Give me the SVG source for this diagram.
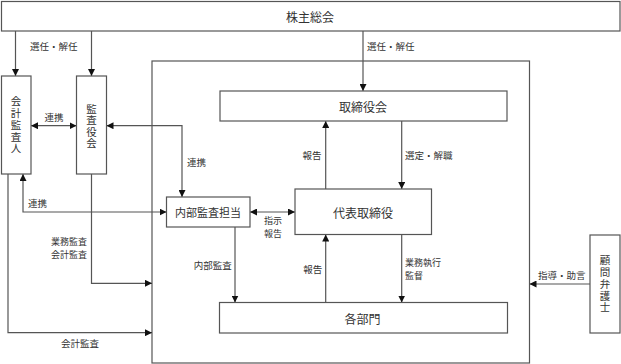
<svg xmlns="http://www.w3.org/2000/svg" width="621" height="364" viewBox="0 0 621 364">
<style>
.box{fill:#fff;stroke:#555;stroke-width:1.2}
.frame{fill:none;stroke:#555;stroke-width:1.2}
.ln{fill:none;stroke:#555;stroke-width:1.2}
.nt{font-family:"Noto Sans CJK JP","Noto Sans CJK SC",sans-serif;font-size:12px;fill:#333;text-anchor:middle;dominant-baseline:central}
.nts{font-family:"Noto Sans CJK JP","Noto Sans CJK SC",sans-serif;font-size:11px;fill:#333;text-anchor:middle;dominant-baseline:central}
.vt{font-family:"Noto Sans CJK JP","Noto Sans CJK SC",sans-serif;font-size:10.5px;fill:#333;text-anchor:middle;writing-mode:vertical-rl;letter-spacing:1.3px}
.lb{font-family:"Noto Sans CJK JP","Noto Sans CJK SC",sans-serif;font-size:9.5px;fill:#333;dominant-baseline:central}
.l2{font-size:9px}
.c{text-anchor:middle}
.e{text-anchor:end}
</style>
<defs>
<marker id="ah" viewBox="0 0 10 10" refX="10" refY="5" markerWidth="7" markerHeight="7" markerUnits="userSpaceOnUse" orient="auto-start-reverse">
<path d="M0,0 L10,5 L0,10 Z" fill="#111"/>
</marker>
</defs>
<g id="company-frame">
<rect class="frame" x="152" y="61" width="377.5" height="302"/>
</g>
<g id="connectors">
<path class="ln" d="M15.5,31 V76" marker-end="url(#ah)"/>
<path class="ln" d="M91.5,31 V76" marker-end="url(#ah)"/>
<path class="ln" d="M363,31 V91" marker-end="url(#ah)"/>
<path class="ln" d="M31,125.7 H76.5" marker-start="url(#ah)" marker-end="url(#ah)"/>
<path class="ln" d="M106.5,125.7 H182 V197" marker-start="url(#ah)" marker-end="url(#ah)"/>
<path class="ln" d="M23,174 V212 H166.5" marker-start="url(#ah)" marker-end="url(#ah)"/>
<path class="ln" d="M250,212 H295" marker-start="url(#ah)" marker-end="url(#ah)"/>
<path class="ln" d="M325.7,189 V121" marker-end="url(#ah)"/>
<path class="ln" d="M401.7,121 V189" marker-end="url(#ah)"/>
<path class="ln" d="M235,227 V302.5" marker-end="url(#ah)"/>
<path class="ln" d="M325.7,302.5 V234.5" marker-end="url(#ah)"/>
<path class="ln" d="M401.7,234.5 V302.5" marker-end="url(#ah)"/>
<path class="ln" d="M91.5,174 V283.3 H152" marker-end="url(#ah)"/>
<path class="ln" d="M8,174 V332.7 H152" marker-end="url(#ah)"/>
<path class="ln" d="M590,284 H529.5" marker-end="url(#ah)"/>
<text class="lb" x="30" y="46">選任・解任</text>
<text class="lb" x="367" y="46">選任・解任</text>
<text class="lb c" x="54" y="117">連携</text>
<text class="lb" x="187" y="162">連携</text>
<text class="lb" x="28" y="203">連携</text>
<text class="lb c l2" x="273" y="220.5">指示</text>
<text class="lb c l2" x="273" y="233.8">報告</text>
<text class="lb c" x="212.7" y="265">内部監査</text>
<text class="lb c" x="312" y="155">報告</text>
<text class="lb c" x="312.7" y="269">報告</text>
<text class="lb" x="405" y="155">選定・解職</text>
<text class="lb l2" x="405" y="262.5">業務執行</text>
<text class="lb l2" x="405" y="275.8">監督</text>
<text class="lb e l2" x="87" y="241.5">業務監査</text>
<text class="lb e l2" x="87" y="254.8">会計監査</text>
<text class="lb c" x="80" y="343">会計監査</text>
<text class="lb" x="538" y="275">指導・助言</text>
</g>
<g id="kabunushi-sokai">
<rect class="box" x="1.5" y="1.5" width="618.5" height="29.5"/>
<text class="nt" x="310" y="16">株主総会</text>
</g>
<g id="kaikei-kansanin">
<rect class="box" x="1.5" y="76" width="29.5" height="98"/>
<text class="vt" x="16" y="125.5">会計監査人</text>
</g>
<g id="kansayakukai">
<rect class="box" x="76.5" y="76" width="30" height="98"/>
<text class="vt" x="91.5" y="126.5" style="letter-spacing:1px">監査役会</text>
</g>
<g id="torishimariyakukai">
<rect class="box" x="220" y="91" width="287" height="30"/>
<text class="nt" x="363" y="106">取締役会</text>
</g>
<g id="daihyo-torishimariyaku">
<rect class="box" x="295" y="189" width="136.5" height="45.5"/>
<text class="nt" x="363" y="212">代表取締役</text>
</g>
<g id="naibu-kansa-tanto">
<rect class="box" x="166.5" y="197" width="83.5" height="30"/>
<text class="nts" x="208" y="212">内部監査担当</text>
</g>
<g id="kakubumon">
<rect class="box" x="219.5" y="302.5" width="288" height="30.5"/>
<text class="nt" x="362.5" y="318">各部門</text>
</g>
<g id="komon-bengoshi">
<rect class="box" x="590" y="235" width="30" height="98"/>
<text class="vt" x="605" y="284.5">顧問弁護士</text>
</g>
</svg>
